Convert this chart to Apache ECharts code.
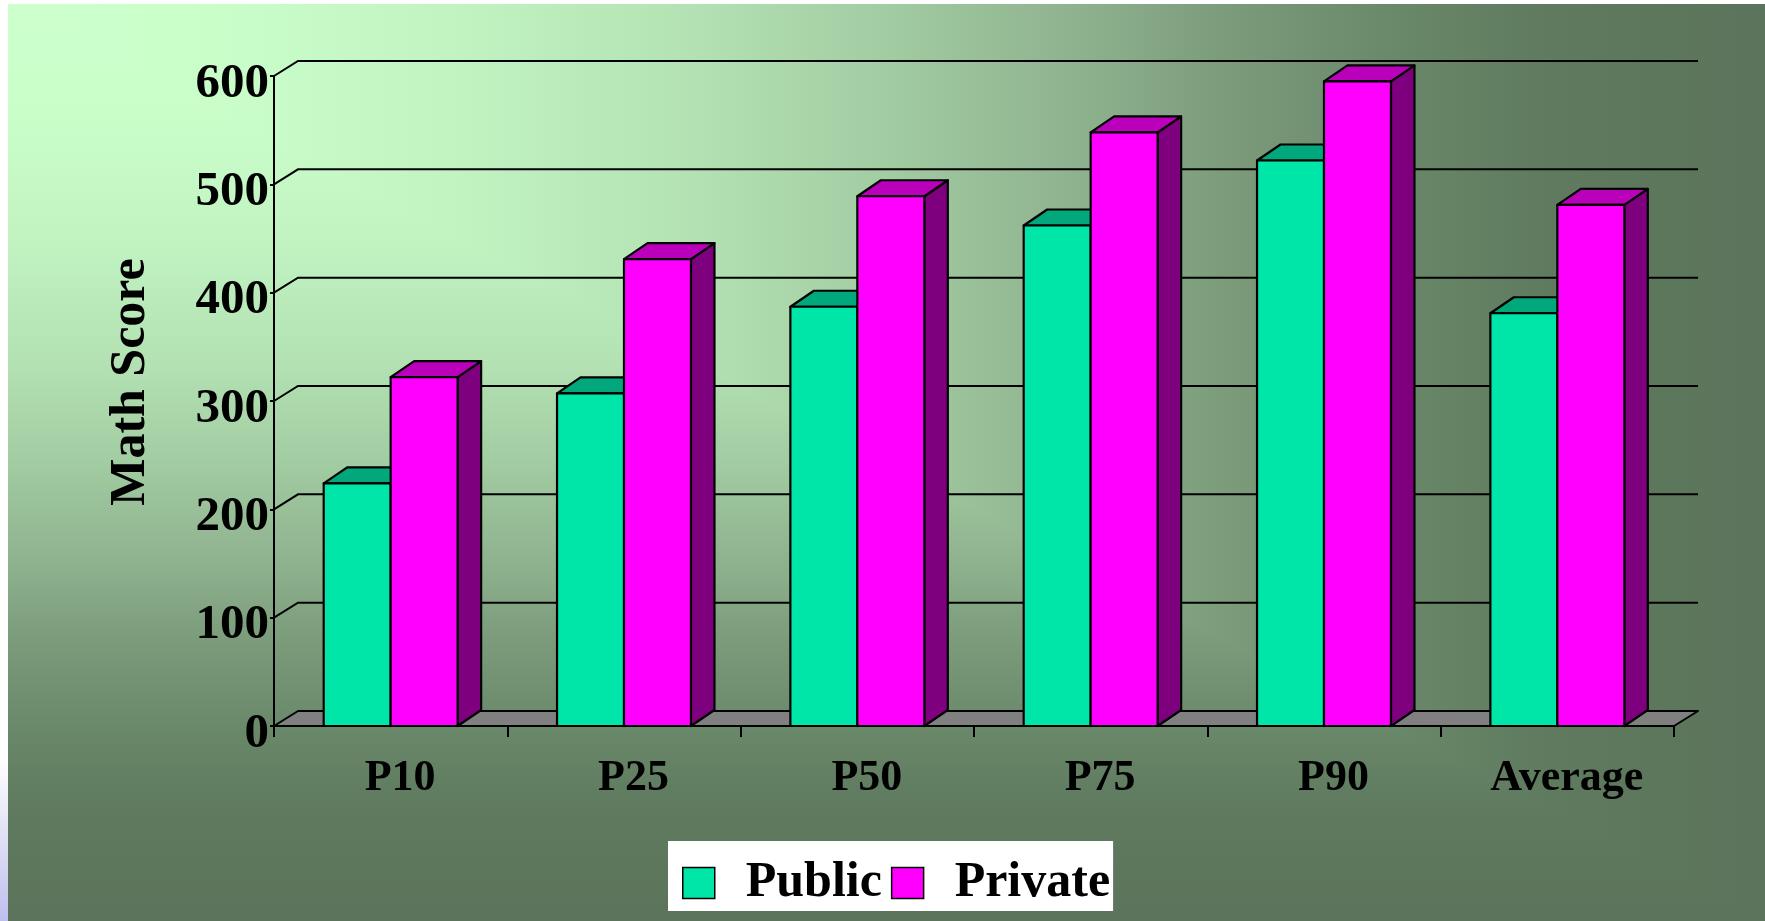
<!DOCTYPE html>
<html>
<head>
<meta charset="utf-8">
<script src="https://cdn.jsdelivr.net/npm/echarts@6/dist/echarts.min.js"></script>
<style>
  html, body { margin: 0; padding: 0; background: #ffffff; }
  #chart { width: 1765px; height: 921px; }
</style>
</head>
<body>
<div id="chart"></div>
<script>
// Math scores by percentile, public vs private schools
const categories = ['P10', 'P25', 'P50', 'P75', 'P90', 'Average'];
const publicScores = [224, 307, 387, 462, 522, 381];
const privateScores = [322, 431, 489, 548, 595, 481];
const yTicks = [0, 100, 200, 300, 400, 500, 600];

// Pseudo-3D look: depth offset of the floor / back wall and of the columns
const WALL_DX = 24, WALL_DY = 15;
const BAR_DX = 23.5, BAR_DY = 16;
const BAR_RATIO = 0.287;   // column width as a share of one category band

const FONT = '"Times New Roman", "Liberation Serif", serif';

const PUBLIC_FACES = { front: '#00E5A8', top: '#00A87B', side: '#008F68' };
const PRIVATE_FACES = { front: '#FF00FF', top: '#BB00BB', side: '#7F007F' };

// Background gradient stops (light corner at top-left, dark towards right/bottom)
const BG_STOPS = [
  { offset: 0.00, color: '#ccffcc' },
  { offset: 0.10, color: '#caffca' },
  { offset: 0.25, color: '#c2f4c2' },
  { offset: 0.40, color: '#b2e0b2' },
  { offset: 0.50, color: '#a2cca2' },
  { offset: 0.60, color: '#90b490' },
  { offset: 0.70, color: '#7a9a7a' },
  { offset: 0.80, color: '#688668' },
  { offset: 0.88, color: '#5f7a5f' },
  { offset: 1.00, color: '#5b745b' }
];

const chart = echarts.init(document.getElementById('chart'), null, { renderer: 'canvas' });

const W = 1765, H = 921;
const BG_L = 8, BG_T = 4;

// Floor and back wall with grid lines, one item per y tick
function renderWall(params, api) {
  const cs = params.coordSys;
  const v = api.value(1);
  const y = api.coord([0, v])[1];
  const left = cs.x, right = cs.x + cs.width;
  if (v === 0) {
    return {
      type: 'polygon',
      shape: { points: [[left, y], [left + WALL_DX, y - WALL_DY], [right + WALL_DX, y - WALL_DY], [right, y]] },
      style: { fill: '#808080', stroke: '#000', lineWidth: 2, lineJoin: 'round' }
    };
  }
  return {
    type: 'polyline',
    shape: { points: [[left, y], [left + WALL_DX, y - WALL_DY], [right + WALL_DX, y - WALL_DY]] },
    style: { fill: null, stroke: '#000', lineWidth: 2 }
  };
}

// A column with front, top and side faces; slot 0 sits left of the band centre, slot 1 right
function makeBarRenderer(slot, faces) {
  return function (params, api) {
    const idx = api.value(0);
    const base = api.coord([idx, 0]);
    const top = api.coord([idx, api.value(1)]);
    const band = api.size([1, 0])[0];
    const w = band * BAR_RATIO;
    const x0 = base[0] + (slot - 1) * w;
    const x1 = x0 + w;
    const yb = base[1], yt = top[1];
    const edge = { stroke: '#000', lineWidth: 2.2, lineJoin: 'round' };
    return {
      type: 'group',
      children: [
        {
          type: 'polygon',
          shape: { points: [[x1, yt], [x1 + BAR_DX, yt - BAR_DY], [x1 + BAR_DX, yb - BAR_DY], [x1, yb]] },
          style: Object.assign({ fill: faces.side }, edge)
        },
        {
          type: 'polygon',
          shape: { points: [[x0, yt], [x0 + BAR_DX, yt - BAR_DY], [x1 + BAR_DX, yt - BAR_DY], [x1, yt]] },
          style: Object.assign({ fill: faces.top }, edge)
        },
        {
          type: 'rect',
          shape: { x: x0, y: yt, width: w, height: yb - yt },
          style: Object.assign({ fill: faces.front }, edge)
        }
      ]
    };
  };
}

const option = {
  animation: false,
  backgroundColor: '#ffffff',
  graphic: [
    {
      type: 'rect', z: -10, silent: true,
      shape: { x: BG_L, y: BG_T, width: W - BG_L, height: H - BG_T },
      style: { fill: new echarts.graphic.LinearGradient(0, 0, 1, 0, BG_STOPS) }
    },
    {
      type: 'polygon', z: -9, silent: true,
      shape: { points: [[BG_L, BG_T], [BG_L, H], [W, H]] },
      style: { fill: new echarts.graphic.LinearGradient(0, 0, 0, 1, BG_STOPS) }
    },
    {
      type: 'rect', z: -9, silent: true,
      shape: { x: 0, y: 757, width: BG_L, height: H - 757 },
      style: {
        fill: new echarts.graphic.LinearGradient(0, 0, 0, 1, [
          { offset: 0, color: '#ffffff' },
          { offset: 1, color: '#bfbfee' }
        ])
      }
    }
  ],
  grid: { left: 274, top: 76, width: 1400, height: 650, containLabel: false },
  legend: {
    data: ['Public', 'Private'],
    left: 668,
    top: 841,
    orient: 'horizontal',
    backgroundColor: '#ffffff',
    padding: [17, 3, 3, 14],
    itemWidth: 32,
    itemHeight: 31,
    itemGap: 9,
    icon: 'rect',
    itemStyle: { borderColor: '#000', borderWidth: 1.5 },
    textStyle: {
      fontFamily: FONT, fontWeight: 'bold', fontSize: 50, color: '#000',
      lineHeight: 50, padding: [0, 0, 0, 26]
    },
    selectedMode: false
  },
  xAxis: {
    type: 'category',
    data: categories,
    boundaryGap: true,
    axisLine: { show: true, lineStyle: { color: '#000', width: 2 } },
    axisTick: { show: true, length: 11, alignWithLabel: false, lineStyle: { color: '#000', width: 2 } },
    axisLabel: {
      fontFamily: FONT, fontWeight: 'bold', fontSize: 44, color: '#000',
      margin: 31, padding: [0, 0, 0, 19]
    },
    splitLine: { show: false }
  },
  yAxis: {
    type: 'value',
    min: 0, max: 600, interval: 100,
    name: 'Math Score',
    nameLocation: 'middle',
    nameRotate: 90,
    nameGap: 118,
    nameTextStyle: {
      fontFamily: FONT, fontWeight: 'bold', fontSize: 50, color: '#000',
      padding: [0, 0, 0, 38]
    },
    axisLine: { show: true, lineStyle: { color: '#000', width: 2 } },
    axisTick: { show: true, length: 4, lineStyle: { color: '#000', width: 2 } },
    axisLabel: {
      fontFamily: FONT, fontWeight: 'bold', fontSize: 49, color: '#000',
      margin: 5, verticalAlign: 'top', lineHeight: 16,
      formatter: function (v) { return yTicks.indexOf(v) >= 0 ? String(v) : ''; }
    },
    splitLine: { show: false }
  },
  series: [
    {
      name: 'Walls',
      type: 'custom',
      z: 1,
      silent: true,
      renderItem: renderWall,
      encode: { x: 0, y: 1 },
      data: yTicks.map(function (v) { return [0, v]; })
    },
    {
      name: 'Public',
      type: 'custom',
      z: 2,
      renderItem: makeBarRenderer(0, PUBLIC_FACES),
      itemStyle: { color: PUBLIC_FACES.front },
      encode: { x: 0, y: 1 },
      data: publicScores.map(function (v, i) { return [i, v]; })
    },
    {
      name: 'Private',
      type: 'custom',
      z: 3,
      renderItem: makeBarRenderer(1, PRIVATE_FACES),
      itemStyle: { color: PRIVATE_FACES.front },
      encode: { x: 0, y: 1 },
      data: privateScores.map(function (v, i) { return [i, v]; })
    }
  ]
};

chart.setOption(option);
</script>
</body>
</html>
